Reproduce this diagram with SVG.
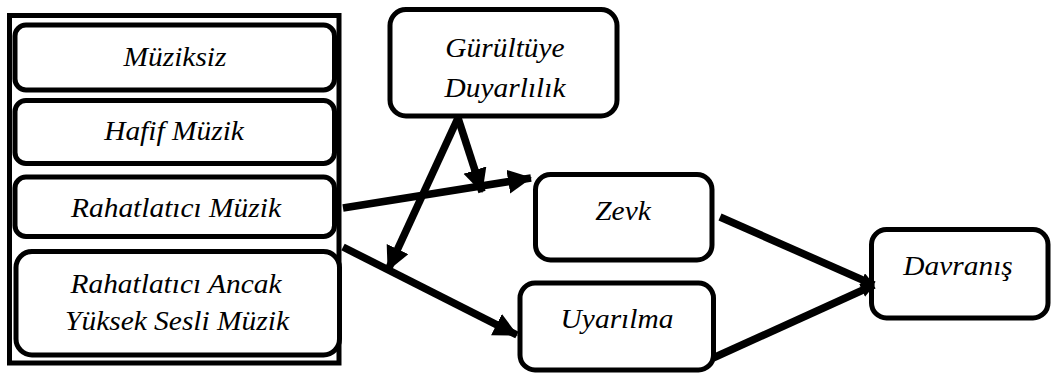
<svg xmlns="http://www.w3.org/2000/svg" width="1051" height="374" viewBox="0 0 1051 374">
  <style>
    .box { fill: #ffffff; stroke: #000000; stroke-width: 5; }
    .frame { fill: none; stroke: #000000; stroke-width: 5; }
    .lbl { font-family: 'Liberation Serif', 'DejaVu Serif', serif; font-style: italic; font-size: 27px; fill: #000000; text-anchor: middle; }
    .edge { fill: none; stroke: #000000; stroke-width: 7.5; }
  </style>
  <defs>
    <marker id="head" markerUnits="userSpaceOnUse" markerWidth="26" markerHeight="26" refX="23" refY="12" orient="auto">
      <path d="M0,0 L24,12 L0,24 Z" fill="#000000"/>
    </marker>
    <marker id="headSmall" markerUnits="userSpaceOnUse" markerWidth="16" markerHeight="16" refX="13" refY="7" orient="auto">
      <path d="M0,0 L14,7 L0,14 Z" fill="#000000"/>
    </marker>
  </defs>

  <rect class="frame" x="9.5" y="15.5" width="329.5" height="347.5"/>

  <!-- labels: italic serif, slightly widened -->
  <g id="muziksiz">
    <rect class="box" x="15" y="25" width="319.5" height="65" rx="11"/>
    <text class="lbl" transform="translate(175 66) scale(1.09 1)">Müziksiz</text>
  </g>
  <g id="hafif-muzik">
    <rect class="box" x="15" y="100.5" width="319.5" height="63" rx="11"/>
    <text class="lbl" transform="translate(174 140) scale(1.09 1)">Hafif Müzik</text>
  </g>
  <g id="rahatlatici-muzik">
    <rect class="box" x="15" y="177" width="319.5" height="59.5" rx="11"/>
    <text class="lbl" transform="translate(176 217) scale(1.09 1)">Rahatlatıcı Müzik</text>
  </g>
  <g id="rahatlatici-yuksek">
    <rect class="box" x="16" y="251.5" width="323.5" height="103.5" rx="16"/>
    <text class="lbl" transform="translate(176 293) scale(1.09 1)">Rahatlatıcı Ancak</text>
    <text class="lbl" transform="translate(177 330) scale(1.09 1)">Yüksek Sesli Müzik</text>
  </g>

  <g id="gurultuye-duyarlilik">
    <rect class="box" x="390" y="9.5" width="227" height="106.5" rx="16"/>
    <text class="lbl" transform="translate(505 57) scale(1.09 1)">Gürültüye</text>
    <text class="lbl" transform="translate(505 97) scale(1.09 1)">Duyarlılık</text>
  </g>
  <g id="zevk">
    <rect class="box" x="535.5" y="174.5" width="176.5" height="85.5" rx="15"/>
    <text class="lbl" transform="translate(623 220) scale(1.09 1)">Zevk</text>
  </g>
  <g id="uyarilma">
    <rect class="box" x="520" y="283" width="193.5" height="87" rx="15"/>
    <text class="lbl" transform="translate(617 328) scale(1.09 1)">Uyarılma</text>
  </g>
  <g id="davranis">
    <rect class="box" x="871.5" y="229.5" width="176.5" height="88.5" rx="15"/>
    <text class="lbl" transform="translate(958 275) scale(1.09 1)">Davranış</text>
  </g>

  <g id="connectors">
    <line class="edge" x1="343" y1="208" x2="531" y2="178" marker-end="url(#head)"/>
    <line class="edge" x1="343" y1="247" x2="517" y2="335" marker-end="url(#head)"/>
    <line class="edge" x1="458" y1="118" x2="482" y2="192" marker-end="url(#head)"/>
    <line class="edge" x1="458" y1="118" x2="388" y2="270" marker-end="url(#head)"/>
    <line class="edge" x1="720" y1="217" x2="874" y2="285" marker-end="url(#headSmall)"/>
    <line class="edge" x1="713" y1="358" x2="874" y2="285" marker-end="url(#headSmall)"/>
  </g>
</svg>
